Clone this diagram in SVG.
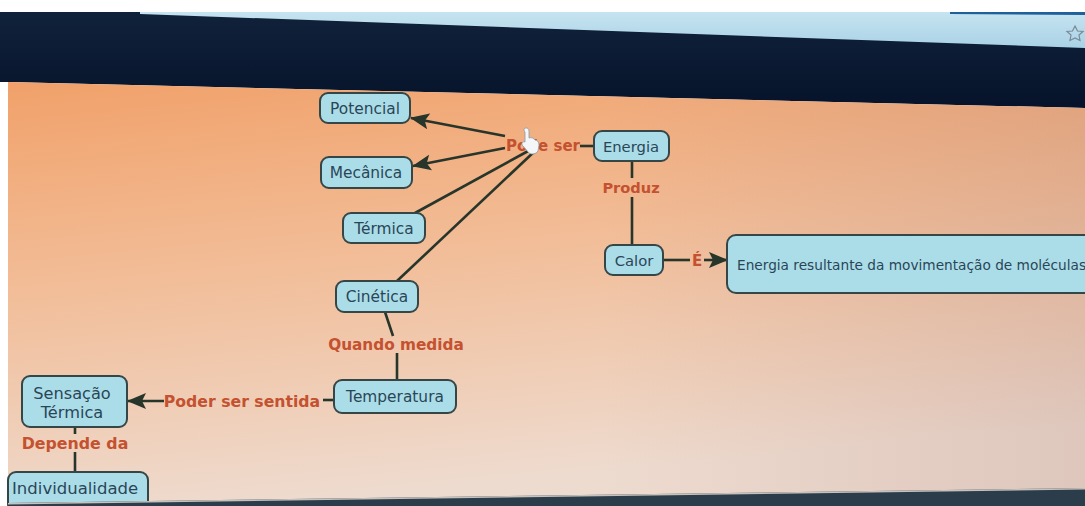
<svg xmlns="http://www.w3.org/2000/svg" width="1085" height="506" viewBox="0 0 1085 506">
  <defs>
    <linearGradient id="canvasGrad" x1="0" y1="0" x2="0.25" y2="1">
      <stop offset="0" stop-color="#f1a16a"/>
      <stop offset="0.45" stop-color="#f2bc96"/>
      <stop offset="1" stop-color="#eedbcf"/>
    </linearGradient>
    <linearGradient id="canvasShade" x1="0" y1="0" x2="1" y2="0">
      <stop offset="0.55" stop-color="#8a5a5a" stop-opacity="0"/>
      <stop offset="1" stop-color="#8a5a5a" stop-opacity="0.16"/>
    </linearGradient>
    <linearGradient id="barGrad" x1="0" y1="0" x2="0" y2="1">
      <stop offset="0" stop-color="#c6e4f0"/>
      <stop offset="1" stop-color="#a9d2e6"/>
    </linearGradient>
    <linearGradient id="navyGrad" x1="0" y1="0" x2="0" y2="1">
      <stop offset="0" stop-color="#10223a"/>
      <stop offset="1" stop-color="#06132a"/>
    </linearGradient>
    <marker id="arrow" markerUnits="userSpaceOnUse" markerWidth="19" markerHeight="16" refX="18" refY="8" orient="auto">
      <path d="M0,0 L19,8 L0,16 L4,8 Z" fill="#27352a"/>
    </marker>
    <style>
      .node rect { fill: #abdde9; stroke: #364646; stroke-width: 2; }
      .node text { font-family: "DejaVu Sans", Verdana, sans-serif; font-size: 15.4px; fill: #2a4656; text-anchor: middle; }
      .link { font-family: "DejaVu Sans", Verdana, sans-serif; font-weight: bold; font-size: 15px; fill: #c4512f; text-anchor: middle; }
      .conn { stroke: #27352a; stroke-width: 2.6; fill: none; }
    </style>
  </defs>

  <!-- screen frame and browser chrome -->
  <rect x="0" y="0" width="1085" height="506" fill="#ffffff"/>
  <polygon points="0,12 1085,12 1085,108 8,82 0,82" fill="url(#navyGrad)"/>
  <polygon points="140,12 1085,12 1085,48 140,14" fill="url(#barGrad)"/>
  <polygon points="950,12 1085,12 1085,15 950,14" fill="#1f5f9a"/>
  <polygon points="1075,26 1077.5,31 1083,31.5 1079,35 1080,40.5 1075,38 1070,40.5 1071,35 1067,31.5 1072.5,31" fill="none" stroke="#7a8a96" stroke-width="1.2"/>

  <!-- map canvas -->
  <polygon points="8,82 1085,108 1085,488 8,503" fill="url(#canvasGrad)"/>
  <polygon points="8,82 1085,108 1085,488 8,503" fill="url(#canvasShade)"/>

  <!-- connectors -->
  <g id="connectors">
    <path class="conn" d="M505,136 L411,118" marker-end="url(#arrow)"/>
    <path class="conn" d="M505,148 L413,166" marker-end="url(#arrow)"/>
    <path class="conn" d="M530,150 L415,213"/>
    <path class="conn" d="M536,150 L397,281"/>
    <path class="conn" d="M594,146 L580,146"/>
    <path class="conn" d="M632,161 L632,178"/>
    <path class="conn" d="M632,197 L632,245"/>
    <path class="conn" d="M663,260 L690,260"/>
    <path class="conn" d="M704,260 L727,260" marker-end="url(#arrow)"/>
    <path class="conn" d="M385,312 L393,336"/>
    <path class="conn" d="M397,353 L397,380"/>
    <path class="conn" d="M334,400 L323,400"/>
    <path class="conn" d="M164,401 L128,401" marker-end="url(#arrow)"/>
    <path class="conn" d="M75,427 L75,434"/>
    <path class="conn" d="M75,452 L75,472"/>
  </g>

  <!-- concepts -->
  <g id="potencial" class="node">
    <rect x="320" y="93" width="90" height="30" rx="8"/>
    <text x="365" y="113.5">Potencial</text>
  </g>
  <g id="mecanica" class="node">
    <rect x="321" y="157" width="91" height="31" rx="8"/>
    <text x="366" y="178">Mecânica</text>
  </g>
  <g id="termica" class="node">
    <rect x="343" y="213" width="82" height="30" rx="8"/>
    <text x="384" y="233.5">Térmica</text>
  </g>
  <g id="cinetica" class="node">
    <rect x="336" y="281" width="82" height="31" rx="8"/>
    <text x="377" y="302">Cinética</text>
  </g>
  <g id="energia" class="node">
    <rect x="594" y="131" width="75" height="30" rx="8"/>
    <text x="631" y="151.5" style="font-size:14.8px">Energia</text>
  </g>
  <g id="calor" class="node">
    <rect x="605" y="245" width="58" height="30" rx="8"/>
    <text x="634" y="265.5" style="font-size:14.8px">Calor</text>
  </g>
  <g id="definicao" class="node">
    <rect x="727" y="235" width="380" height="58" rx="9"/>
    <text x="737" y="270" style="text-anchor:start;font-size:13.7px">Energia resultante da movimentação de moléculas</text>
  </g>
  <g id="temperatura" class="node">
    <rect x="334" y="380" width="122" height="33" rx="8"/>
    <text x="395" y="402">Temperatura</text>
  </g>
  <g id="sensacao" class="node">
    <rect x="22" y="376" width="105" height="51" rx="8"/>
    <text x="72" y="399" style="font-size:16.2px">Sensação</text>
    <text x="72" y="418" style="font-size:16.2px">Térmica</text>
  </g>
  <g id="individualidade" class="node">
    <rect x="8" y="472" width="140" height="40" rx="8"/>
    <text x="12" y="494" style="text-anchor:start;font-size:16.5px">Individualidade</text>
  </g>

  <!-- linking phrases -->
  <g id="links">
    <text class="link" x="543" y="151">Pode ser</text>
    <text class="link" x="631" y="192.5" style="font-size:14.6px">Produz</text>
    <text class="link" x="697" y="265.5">É</text>
    <text class="link" x="396" y="350" style="font-size:15.3px">Quando medida</text>
    <text class="link" x="242" y="406.5" style="font-size:15.7px">Poder ser sentida</text>
    <text class="link" x="75" y="448.5" style="font-size:15.8px">Depende da</text>
  </g>

  <!-- mouse pointer -->
  <path d="M524,129 C526,127 529,128 529,131 L529,138 C531,137 534,138 535,140 C537,140 539,142 539,145 L538,151 C536,154 532,155 529,153 L523,146 C521,144 522,141 525,142 L525,132 C524,131 524,130 524,129 Z" fill="#f4f6f8" stroke="#8a9aa6" stroke-width="0.8"/>

  <!-- monitor bezel -->
  <polygon points="8,503 1085,488 1085,506 8,506" fill="#2b3c4b"/>
  <polygon points="8,503 1085,488 1085,489.5 8,504.5" fill="#c8c0ba"/>
</svg>
